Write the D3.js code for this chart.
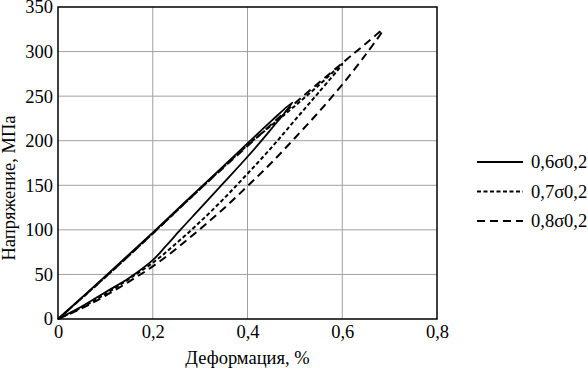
<!DOCTYPE html>
<html>
<head>
<meta charset="utf-8">
<script src="https://cdn.jsdelivr.net/npm/d3@7"></script>
<style>
  body { margin: 0; background: #fff; }
  svg text { font-family: "Liberation Serif", "Times New Roman", "DejaVu Serif", serif; fill: #000; }
</style>
</head>
<body>
<div class="chart"></div>
<script>
// data: strain (%) vs stress (MPa), loading + unloading branch
const xTicks = [0, 0.2, 0.4, 0.6, 0.8];
const yTicks = [0, 50, 100, 150, 200, 250, 300, 350];
const seriesNames = ["0,6σ0,2", "0,7σ0,2", "0,8σ0,2"];

// 0,6σ0,2 : lower branch up to the peak, then upper branch back to zero
const loop06 = [
  [0, 0], [0.05, 14], [0.1, 30], [0.15, 46], [0.2, 66], [0.228, 82], [0.26, 101],
  [0.3, 124], [0.35, 153], [0.4, 182], [0.45, 213], [0.495, 243],
  [0.45, 222], [0.4, 197], [0.3, 147], [0.2, 97], [0.1, 48], [0, 0]
];
// 0,7σ0,2
const loop07 = [
  [0, 0], [0.05, 13], [0.1, 28], [0.15, 45], [0.2, 63], [0.25, 85], [0.3, 109],
  [0.35, 135], [0.4, 163], [0.45, 192], [0.5, 223], [0.55, 254], [0.6, 286],
  [0.55, 262], [0.5, 239], [0.45, 217], [0.4, 195], [0.3, 146], [0.2, 96], [0.1, 47], [0, 0]
];
// 0,8σ0,2
const loop08 = [
  [0, 0], [0.05, 12], [0.1, 26], [0.15, 42], [0.2, 59], [0.25, 79], [0.3, 101],
  [0.35, 124], [0.4, 149], [0.45, 175], [0.5, 203], [0.55, 232], [0.6, 263],
  [0.65, 297], [0.685, 324],
  [0.65, 309], [0.6, 287], [0.5, 242], [0.4, 194], [0.3, 146], [0.2, 96], [0.1, 47], [0, 0]
];
const loops = [loop06, loop07, loop08];
const dashes = [null, "4,2.5", "8,5"];

const width = 588, height = 370;
const margin = { left: 58, right: 151, top: 7, bottom: 51 };
const fontSize = 18.5;

const svg = d3.select(".chart").append("svg")
  .attr("width", width)
  .attr("height", height);

const x = d3.scaleLinear().domain([0, 0.8]).range([margin.left, width - margin.right]);
const y = d3.scaleLinear().domain([0, 350]).range([height - margin.bottom, margin.top]);

const fmt = d => d === 0 ? "0" : d3.format(".1f")(d).replace(".", ",");

// grid
svg.append("g").selectAll("line").data(xTicks.slice(1, -1)).enter().append("line")
  .attr("x1", d => x(d)).attr("x2", d => x(d))
  .attr("y1", y(0)).attr("y2", y(350))
  .attr("stroke", "#a0a0a0").attr("stroke-width", 1);
svg.append("g").selectAll("line").data(yTicks.slice(1, -1)).enter().append("line")
  .attr("x1", x(0)).attr("x2", x(0.8))
  .attr("y1", d => y(d)).attr("y2", d => y(d))
  .attr("stroke", "#a0a0a0").attr("stroke-width", 1);

// frame
svg.append("rect")
  .attr("x", x(0)).attr("y", y(350))
  .attr("width", x(0.8) - x(0)).attr("height", y(0) - y(350))
  .attr("fill", "none").attr("stroke", "#000").attr("stroke-width", 1.5);

// axes
const xAxis = svg.append("g")
  .attr("transform", `translate(0,${y(0)})`)
  .call(d3.axisBottom(x).tickValues(xTicks).tickFormat(fmt).tickSize(0).tickPadding(6));
const yAxis = svg.append("g")
  .attr("transform", `translate(${x(0)},0)`)
  .call(d3.axisLeft(y).tickValues(yTicks).tickSize(0).tickPadding(5));
[xAxis, yAxis].forEach(a => {
  a.attr("font-family", null).attr("font-size", null);
  a.select(".domain").remove();
  a.selectAll("text").style("font-size", fontSize + "px");
});

svg.append("text")
  .attr("x", (x(0) + x(0.8)) / 2).attr("y", 364)
  .attr("text-anchor", "middle").style("font-size", fontSize + "px")
  .text("Деформация, %");
svg.append("text")
  .attr("transform", `translate(15,${(y(0) + y(350)) / 2 + 25}) rotate(-90)`)
  .attr("text-anchor", "middle").style("font-size", fontSize + "px")
  .text("Напряжение, МПа");

// curves
const line = d3.line().x(d => x(d[0])).y(d => y(d[1])).curve(d3.curveCatmullRom.alpha(0.5));
svg.append("g").selectAll("path").data(loops).enter().append("path")
  .attr("d", line)
  .attr("fill", "none")
  .attr("stroke", "#000")
  .attr("stroke-width", (d, i) => i === 0 ? 1.8 : 2)
  .attr("stroke-dasharray", (d, i) => dashes[i]);

// legend
const legend = svg.append("g").selectAll("g").data(seriesNames).enter().append("g")
  .attr("transform", (d, i) => `translate(477,${162 + i * 29.5})`);
legend.append("line")
  .attr("x1", 0).attr("x2", 46)
  .attr("stroke", "#000").attr("stroke-width", 2)
  .attr("stroke-dasharray", (d, i) => dashes[i]);
legend.append("text")
  .attr("x", 54).attr("dy", "0.35em")
  .style("font-size", fontSize + "px")
  .text(d => d);
</script>
</body>
</html>
